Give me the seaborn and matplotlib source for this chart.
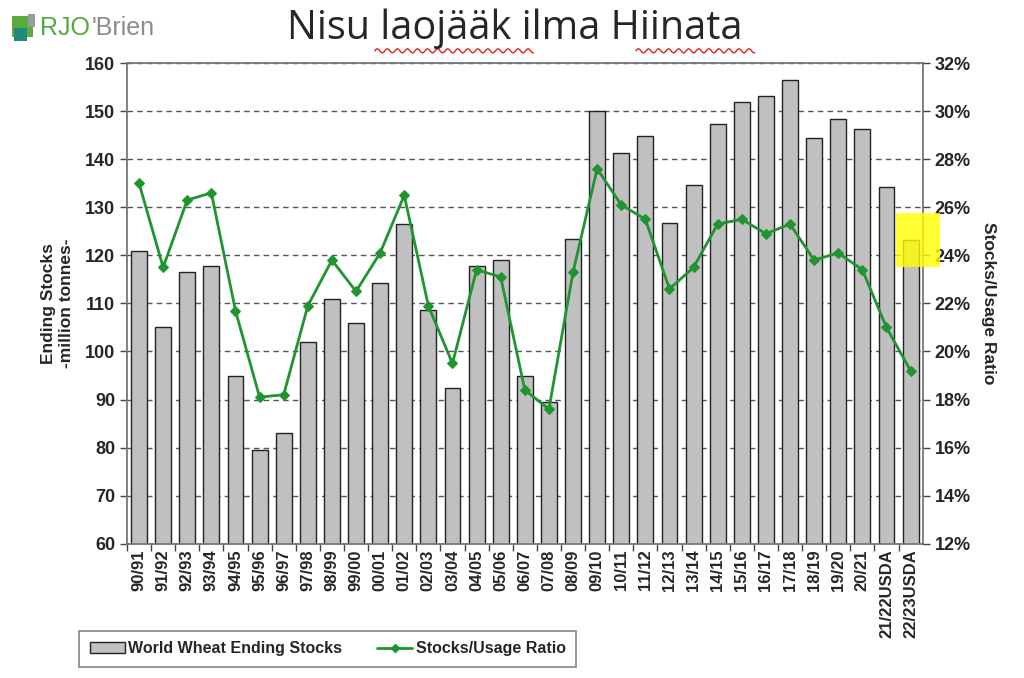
import numpy as np
import pandas as pd
import seaborn as sns
from matplotlib import pyplot as plt
from matplotlib.patches import Rectangle, Patch
from matplotlib.lines import Line2D
from matplotlib.ticker import FuncFormatter

# marketing years on the x axis
years = ['90/91', '91/92', '92/93', '93/94', '94/95', '95/96', '96/97', '97/98', '98/99', '99/00',
         '00/01', '01/02', '02/03', '03/04', '04/05', '05/06', '06/07', '07/08', '08/09', '09/10',
         '10/11', '11/12', '12/13', '13/14', '14/15', '15/16', '16/17', '17/18', '18/19', '19/20',
         '20/21', '21/22USDA', '22/23USDA']
# world wheat ending stocks, million tonnes
stocks = [121, 105, 116.5, 117.8, 95, 79.5, 83, 102, 111, 106,
          114.2, 126.6, 108.6, 92.5, 117.8, 119, 95, 89.5, 123.4, 150,
          141.3, 144.8, 126.7, 134.6, 147.4, 152, 153.1, 156.5, 144.5, 148.3,
          146.2, 134.3, 123.2]
# stocks / usage ratio, percent
ratio = [27.0, 23.5, 26.3, 26.6, 21.7, 18.1, 18.2, 21.9, 23.8, 22.5,
         24.1, 26.5, 21.9, 19.5, 23.4, 23.1, 18.4, 17.6, 23.3, 27.6,
         26.1, 25.5, 22.6, 23.5, 25.3, 25.5, 24.9, 25.3, 23.8, 24.1,
         23.4, 21.0, 19.2]

df = pd.DataFrame({'year': years, 'stocks': stocks, 'ratio': ratio})
df['pos'] = np.arange(len(df))

sns.set_style('white')
plt.rcParams['font.family'] = ['Liberation Sans', 'DejaVu Sans']

fig = plt.figure(figsize=(10.24, 6.78), dpi=100)
ax = fig.add_axes([0.124, 0.198, 0.777, 0.709])

green = '#1f9430'

sns.barplot(data=df, x='year', y='stocks', color='#c0c0c0', edgecolor='#222222',
            linewidth=1.0, width=0.66, saturation=1, ax=ax, zorder=2)
ax.set_ylim(60, 160)
ax.set_yticks(range(60, 161, 10))
ax.yaxis.grid(True, linestyle=(0, (4, 3)), color='#555555', linewidth=1.0, zorder=0)
ax.set_axisbelow(True)
ax.set_xlim(-0.5, len(df) - 0.5)
ax.set_xlabel('')
ax.set_ylabel('Ending Stocks\n-million tonnes-', fontsize=12.5, fontweight='bold', labelpad=8)
for lab in ax.get_yticklabels():
    lab.set_fontweight('bold')
ax.tick_params(axis='y', labelsize=13, left=True, length=5, width=1, color='#444444')
ax.set_xticks(df['pos'] - 0.5, minor=True)
ax.set_xticklabels(years, rotation=90, fontweight='bold', fontsize=12)
ax.tick_params(axis='x', which='major', length=0, pad=4)
ax.tick_params(axis='x', which='minor', bottom=True, length=5, width=1, color='#444444')
for sp in ax.spines.values():
    sp.set_color('#777777')
    sp.set_linewidth(1.3)

ax2 = ax.twinx()
sns.lineplot(x=df['pos'], y=df['ratio'], color=green, linewidth=2.0, marker='D',
             markersize=5.5, markeredgecolor=green, ax=ax2, zorder=3)
ax2.set_ylim(12, 32)
ax2.set_yticks(range(12, 33, 2))
ax2.yaxis.set_major_formatter(FuncFormatter(lambda v, p: '%d%%' % v))
ax2.tick_params(axis='y', labelsize=13, right=True, length=5, width=1, color='#444444')
for lab in ax2.get_yticklabels():
    lab.set_fontweight('bold')
ax2.set_ylabel('Stocks/Usage Ratio', fontsize=12.5, fontweight='bold', rotation=270, labelpad=18)
ax2.set_xlabel('')
ax2.set_xlim(-0.5, len(df) - 0.5)
for sp in ax2.spines.values():
    sp.set_visible(False)

# yellow highlight on the last bar
fig.patches.append(Rectangle((896 / 1024, 1 - 267 / 678), 44 / 1024, 54 / 678,
                             transform=fig.transFigure, facecolor='#ffff00', alpha=0.8,
                             edgecolor='none', zorder=5))

# legend box
handles = [Patch(facecolor='#c0c0c0', edgecolor='#222222', label='World Wheat Ending Stocks'),
           Line2D([0], [0], color=green, linewidth=2, marker='D', markersize=4,
                  label='Stocks/Usage Ratio')]
leg = fig.legend(handles=handles, loc='center', bbox_to_anchor=(0.320, 0.043), ncol=2,
                 frameon=True, fancybox=False, prop={'weight': 'bold', 'size': 11.5},
                 handlelength=2.2, handletextpad=0.2, columnspacing=2.2,
                 borderpad=0.65, borderaxespad=0)
leg.get_frame().set_edgecolor('#666666')
leg.get_frame().set_linewidth(1.2)

# title
fig.text(0.503, 0.957, 'Nisu laojääk ilma Hiinata', ha='center', va='center',
         fontsize=28.5, family=['Open Sans', 'DejaVu Sans'])
# spell-check squiggles under two words
for x0, x1 in [(0.366, 0.521), (0.621, 0.737)]:
    xs = np.linspace(x0, x1, 200)
    ys = 0.925 + 0.003 * np.sin((xs - x0) * 1024 / 1.6)
    fig.add_artist(Line2D(xs, ys, transform=fig.transFigure, color='#e02020', linewidth=1))

# logo
fig.patches.append(Rectangle((0.012, 0.945), 0.020, 0.032, transform=fig.transFigure,
                             facecolor='#5aaa3c', edgecolor='none'))
fig.patches.append(Rectangle((0.014, 0.940), 0.012, 0.018, transform=fig.transFigure,
                             facecolor='#1f8a7a', edgecolor='none'))
fig.patches.append(Rectangle((0.027, 0.960), 0.007, 0.020, transform=fig.transFigure,
                             facecolor='#9a9a9a', edgecolor='none'))
fig.text(0.039, 0.958, 'RJO', ha='left', va='center', fontsize=18, color='#56a83a')
fig.text(0.089, 0.958, "'Brien", ha='left', va='center', fontsize=18, color='#8c8c8c')

fig.savefig('out.png', dpi=100)
